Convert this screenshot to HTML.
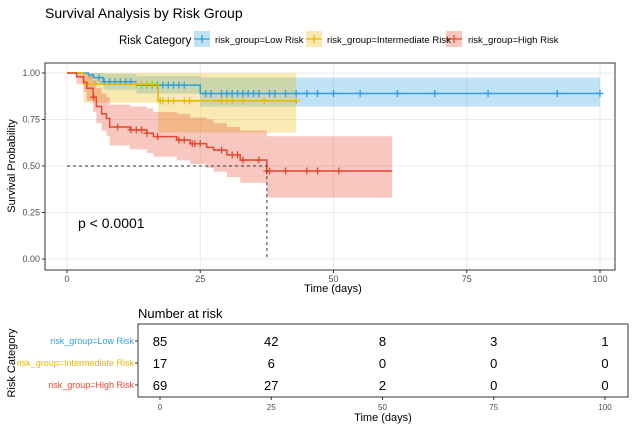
<!DOCTYPE html>
<html><head><meta charset="utf-8"><style>
body{margin:0;background:#fff;font-family:"Liberation Sans",sans-serif}
svg{display:block}
</style></head><body>
<svg id="c" width="637" height="432" xmlns="http://www.w3.org/2000/svg">
<text x="45" y="18" font-size="14" fill="#000">Survival Analysis by Risk Group</text>
<g id="legend">
<text x="119" y="44" font-size="11.5" fill="#000">Risk Category</text>
</g>
<rect x="45" y="63" width="570" height="207" fill="#fff" stroke="#333" stroke-width="1"/>
<g id="grid"></g><g id="bands"></g><g id="lines"></g><g id="axes"></g>
<text x="78" y="228" font-size="14" fill="#000">p &lt; 0.0001</text>
<text x="333" y="292" font-size="11" text-anchor="middle" fill="#000">Time (days)</text>
<text transform="translate(15,166) rotate(-90)" font-size="11" text-anchor="middle" fill="#000">Survival Probability</text>
<text x="138" y="318" font-size="13" fill="#000">Number at risk</text>
<rect x="138" y="324" width="490" height="73" fill="#fff" stroke="#333"/>
<g id="table"></g>
<text x="383" y="421" font-size="11" text-anchor="middle" fill="#000">Time (days)</text>
<text transform="translate(15,363) rotate(-90)" font-size="11" text-anchor="middle" fill="#000">Risk Category</text>
</svg>
<script>
const groups = ["Low Risk","Intermediate Risk","High Risk"];
const colors = ["#2E9FDF","#E7B800","#E8472F"];
const lowT = [0,4,5,6.8,13,25];
const lowS = [1,0.99,0.975,0.953,0.935,0.89];
const lowU = [1,1,1,0.995,0.985,0.975];
const lowL = [1,0.97,0.94,0.91,0.89,0.82];
const lowEnd = 100;
const lowCens = [6,7,8,9,10,11,12,14,15,16,17,18,19,20,21,22,26,27,29,30,31,32,33,34,35,36,38,39,41,43,45,47,50,55,62,69,79,92,100];
const intT = [0,3.1,17.1];
const intS = [1,0.94,0.85];
const intU = [1,1,1];
const intL = [1,0.84,0.68];
const intEnd = 43;
const intCens = [13,14,15,16,17.5,18,19,20,22,23,29,30,31,33,37,43];
const highT = [0,1.8,3.1,3.7,4.9,5.5,6.5,7.4,8,11.8,15,16.2,20.6,23.1,26.2,27.5,30,32.5,37.5];
const highS = [1,0.98,0.95,0.918,0.87,0.82,0.78,0.756,0.71,0.694,0.676,0.658,0.64,0.62,0.60,0.586,0.56,0.532,0.473];
const highU = [1,1,1,0.99,0.96,0.92,0.89,0.87,0.83,0.82,0.81,0.79,0.78,0.76,0.75,0.73,0.71,0.69,0.66];
const highL = [1,0.94,0.9,0.85,0.79,0.73,0.69,0.66,0.61,0.59,0.57,0.55,0.53,0.51,0.49,0.47,0.44,0.41,0.33];
const highEnd = 61;
const highCens = [5,9.5,12,13,14,15,17,21,22,23.5,24,25,29,31,32,33,36,37.5,38,41,45,47,51];
const xTicks = [0,25,50,75,100];
const yTicks = [0,0.25,0.5,0.75,1];
const yTickLabels = ["0.00","0.25","0.50","0.75","1.00"];
const tableRows = ["risk_group=Low Risk","risk_group=Intermediate Risk","risk_group=High Risk"];
const atRiskLow = [85,42,8,3,1];
const atRiskInt = [17,6,0,0,0];
const atRiskHigh = [69,27,2,0,0];
const medianT = 37.5;

const NS="http://www.w3.org/2000/svg";
const xs=t=>67+t*5.33, ys=s=>259-s*186, xt=t=>160+t*4.45;
function mk(tag,attrs,parent){const e=document.createElementNS(NS,tag);for(const k in attrs)e.setAttribute(k,attrs[k]);parent.appendChild(e);return e;}
const grid=document.getElementById('grid'),axes=document.getElementById('axes'),bands=document.getElementById('bands'),lines=document.getElementById('lines'),table=document.getElementById('table'),legend=document.getElementById('legend');
xTicks.forEach((t,i)=>{
 let g=mk('line',{x1:xs(t),x2:xs(t),y1:64,y2:269,stroke:'#ebebeb'},grid);
 
 let tk=mk('line',{x1:xs(t),x2:xs(t),y1:270,y2:273,stroke:'#333'},axes);
 
 let tx=mk('text',{x:xs(t),y:282,'font-size':9,'text-anchor':'middle',fill:'#4d4d4d'},axes);tx.textContent=t;
 
 let g2=mk('line',{x1:xt(t),x2:xt(t),y1:325,y2:396,stroke:'#ebebeb'},grid);
 
 let tk2=mk('line',{x1:xt(t),x2:xt(t),y1:397,y2:400,stroke:'#333'},axes);
 
 let t2=mk('text',{x:xt(t),y:410,'font-size':8,'text-anchor':'middle',fill:'#4d4d4d'},axes);t2.textContent=t;
 
});
yTicks.forEach((s,i)=>{
 let g=mk('line',{x1:46,x2:614,y1:ys(s),y2:ys(s),stroke:'#ebebeb'},grid);
 
 let tk=mk('line',{x1:42,x2:45,y1:ys(s),y2:ys(s),stroke:'#333'},axes);
 
 let tx=mk('text',{x:40,y:ys(s)+3,'font-size':9,'text-anchor':'end',fill:'#4d4d4d'},axes);tx.textContent=yTickLabels[i];
 
});
const series=[[lowT,lowS,lowU,lowL,lowEnd,lowCens],[intT,intS,intU,intL,intEnd,intCens],[highT,highS,highU,highL,highEnd,highCens]];
function stepPath(T,V,end){let d='M'+xs(T[0])+','+ys(V[0]);for(let i=1;i<T.length;i++){d+='H'+xs(T[i])+'V'+ys(V[i]);}return d+'H'+xs(end);}
function survAt(T,S,t){let v=S[0];for(let i=0;i<T.length;i++)if(T[i]<=t)v=S[i];return v;}
series.forEach(([T,S,U,L,end,C],gi)=>{
 let up='M'+xs(T[0])+','+ys(U[0]);for(let i=1;i<T.length;i++)up+='H'+xs(T[i])+'V'+ys(U[i]);up+='H'+xs(end);
 let lo='';for(let i=T.length-1;i>=0;i--){lo+='V'+ys(L[i])+'H'+xs(T[i]);}
 let b=mk('path',{d:up+lo+'Z',fill:colors[gi],'fill-opacity':0.3},bands);
 
 let l=mk('path',{d:stepPath(T,S,end),fill:'none',stroke:colors[gi],'stroke-width':1.5},lines);
 
 C.forEach(t=>{const x=xs(t),y=ys(survAt(T,S,t));
  let m=mk('path',{d:`M${x-3.5},${y}H${x+3.5}M${x},${y-3.5}V${y+3.5}`,stroke:colors[gi],'stroke-width':1.3},lines);
  });
});
let md=mk('path',{d:`M${xs(0)},${ys(0.5)}H${xs(medianT)}V${ys(0)}`,fill:'none',stroke:'#333','stroke-dasharray':'3,3','stroke-width':1},lines);

[194,306,446].forEach((x,i)=>{
 let r=mk('rect',{x:x,y:31,width:16,height:16,fill:colors[i],'fill-opacity':0.3},legend);
 
 let p=mk('path',{d:`M${x},39H${x+16}M${x+8},35V43`,stroke:colors[i],'stroke-width':1.3},legend);
 
});
[215,327,468].forEach((x,i)=>{
 let t=mk('text',{x:x,y:43,'font-size':9.5,fill:'#000'},legend);t.textContent='risk_group='+groups[i];
 
});
const rowsY=[341,363,385];const atRisk=[atRiskLow,atRiskInt,atRiskHigh];
tableRows.forEach((name,i)=>{
 let t=mk('text',{x:134,y:rowsY[i]+3,'font-size':9,'text-anchor':'end',fill:colors[i]},table);t.textContent=name;
 
 let tk=mk('line',{x1:135,x2:138,y1:rowsY[i],y2:rowsY[i],stroke:'#333'},table);
 
 atRisk[i].forEach((v,j)=>{
  let n=mk('text',{x:xt(xTicks[j]),y:rowsY[i]+5,'font-size':13,'text-anchor':'middle',fill:'#000'},table);n.textContent=v;
  
 });
});
</script>
</body></html>
